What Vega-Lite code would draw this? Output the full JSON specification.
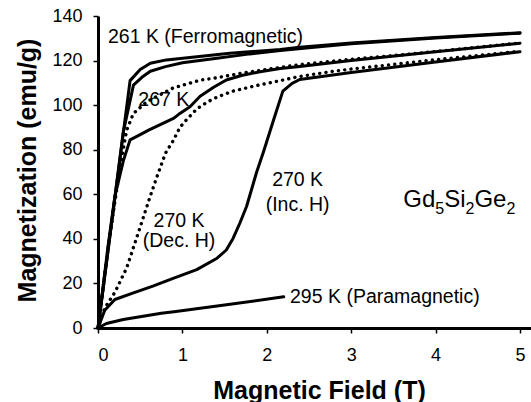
{
  "$schema": "https://vega.github.io/schema/vega-lite/v6.json",
  "width": 433,
  "height": 312,
  "autosize": {"type": "none"},
  "padding": {"left": 98, "top": 16, "right": 0, "bottom": 74},
  "background": "white",
  "config": {
    "view": {"stroke": null},
    "font": "Liberation Sans",
    "axis": {
      "domainColor": "black",
      "domainWidth": 3,
      "tickColor": "black",
      "tickWidth": 1.5,
      "tickSize": 5,
      "labelColor": "black",
      "labelFont": "Liberation Sans",
      "labelFontSize": 18,
      "titleColor": "black",
      "titleFont": "Liberation Sans",
      "titleFontSize": 25,
      "titleFontWeight": "bold",
      "grid": false
    }
  },
  "datasets": {
    "curves": [
      {"series": "261 K A", "B": 0, "M": 0},
      {"series": "261 K A", "B": 0.38, "M": 111},
      {"series": "261 K A", "B": 0.5, "M": 116},
      {"series": "261 K A", "B": 0.62, "M": 118.8},
      {"series": "261 K A", "B": 0.81, "M": 120.3},
      {"series": "261 K A", "B": 1.2, "M": 121.8},
      {"series": "261 K A", "B": 1.56, "M": 123.3},
      {"series": "261 K A", "B": 2.16, "M": 125},
      {"series": "261 K A", "B": 2.39, "M": 126},
      {"series": "261 K A", "B": 3, "M": 127.9},
      {"series": "261 K A", "B": 4, "M": 130.3},
      {"series": "261 K A", "B": 5, "M": 132.5},
      {"series": "261 K B", "B": 0, "M": 0},
      {"series": "261 K B", "B": 0.3, "M": 88},
      {"series": "261 K B", "B": 0.42, "M": 109},
      {"series": "261 K B", "B": 0.52, "M": 112.5},
      {"series": "261 K B", "B": 0.62, "M": 115.2},
      {"series": "261 K B", "B": 0.8, "M": 117.3},
      {"series": "261 K B", "B": 1.0, "M": 119},
      {"series": "261 K B", "B": 1.41, "M": 121},
      {"series": "261 K B", "B": 1.8, "M": 123},
      {"series": "261 K B", "B": 2.16, "M": 124.5},
      {"series": "261 K B", "B": 2.5, "M": 125.8},
      {"series": "261 K B", "B": 3, "M": 127.6},
      {"series": "261 K B", "B": 4, "M": 130.1},
      {"series": "261 K B", "B": 5, "M": 132.3},
      {"series": "267 K inc", "B": 0, "M": 0},
      {"series": "267 K inc", "B": 0.12, "M": 37},
      {"series": "267 K inc", "B": 0.2, "M": 59},
      {"series": "267 K inc", "B": 0.3, "M": 75},
      {"series": "267 K inc", "B": 0.38, "M": 84.4},
      {"series": "267 K inc", "B": 0.5, "M": 86.8},
      {"series": "267 K inc", "B": 0.6, "M": 88.8},
      {"series": "267 K inc", "B": 0.75, "M": 91.5},
      {"series": "267 K inc", "B": 0.9, "M": 94.2},
      {"series": "267 K inc", "B": 0.97, "M": 96.3},
      {"series": "267 K inc", "B": 1.09, "M": 99.3},
      {"series": "267 K inc", "B": 1.21, "M": 104},
      {"series": "267 K inc", "B": 1.37, "M": 108},
      {"series": "267 K inc", "B": 1.52, "M": 111.3},
      {"series": "267 K inc", "B": 1.7, "M": 113.3},
      {"series": "267 K inc", "B": 1.92, "M": 115},
      {"series": "267 K inc", "B": 2.16, "M": 116.4},
      {"series": "267 K inc", "B": 2.39, "M": 117.3},
      {"series": "267 K inc", "B": 3, "M": 120},
      {"series": "267 K inc", "B": 4, "M": 124},
      {"series": "267 K inc", "B": 5, "M": 127.8},
      {"series": "267 K dec", "B": 0, "M": 0},
      {"series": "267 K dec", "B": 0.12, "M": 36},
      {"series": "267 K dec", "B": 0.26, "M": 72},
      {"series": "267 K dec", "B": 0.34, "M": 88.8},
      {"series": "267 K dec", "B": 0.42, "M": 96.3},
      {"series": "267 K dec", "B": 0.58, "M": 101.6},
      {"series": "267 K dec", "B": 0.89, "M": 107.7},
      {"series": "267 K dec", "B": 1.21, "M": 111.2},
      {"series": "267 K dec", "B": 1.41, "M": 112.3},
      {"series": "267 K dec", "B": 1.68, "M": 114.2},
      {"series": "267 K dec", "B": 1.92, "M": 115.6},
      {"series": "267 K dec", "B": 2.39, "M": 118.2},
      {"series": "267 K dec", "B": 3, "M": 120.6},
      {"series": "267 K dec", "B": 3.6, "M": 122.6},
      {"series": "267 K dec", "B": 4, "M": 124.1},
      {"series": "267 K dec", "B": 5, "M": 127.9},
      {"series": "270 K inc", "B": 0, "M": 0},
      {"series": "270 K inc", "B": 0.08, "M": 8},
      {"series": "270 K inc", "B": 0.2, "M": 12.8},
      {"series": "270 K inc", "B": 0.42, "M": 15.8},
      {"series": "270 K inc", "B": 0.65, "M": 18.8},
      {"series": "270 K inc", "B": 0.89, "M": 22.3},
      {"series": "270 K inc", "B": 1.17, "M": 26.2},
      {"series": "270 K inc", "B": 1.41, "M": 31.3},
      {"series": "270 K inc", "B": 1.52, "M": 35},
      {"series": "270 K inc", "B": 1.6, "M": 40.2},
      {"series": "270 K inc", "B": 1.68, "M": 47},
      {"series": "270 K inc", "B": 1.76, "M": 54.5},
      {"series": "270 K inc", "B": 1.88, "M": 70},
      {"series": "270 K inc", "B": 1.96, "M": 79},
      {"series": "270 K inc", "B": 2.08, "M": 93.3},
      {"series": "270 K inc", "B": 2.19, "M": 106.3},
      {"series": "270 K inc", "B": 2.3, "M": 109.8},
      {"series": "270 K inc", "B": 2.39, "M": 111.5},
      {"series": "270 K inc", "B": 3, "M": 114.6},
      {"series": "270 K inc", "B": 4, "M": 119.4},
      {"series": "270 K inc", "B": 5, "M": 124},
      {"series": "270 K dec", "B": 0, "M": 0},
      {"series": "270 K dec", "B": 0.08, "M": 9},
      {"series": "270 K dec", "B": 0.2, "M": 16},
      {"series": "270 K dec", "B": 0.34, "M": 27},
      {"series": "270 K dec", "B": 0.48, "M": 43},
      {"series": "270 K dec", "B": 0.6, "M": 57},
      {"series": "270 K dec", "B": 0.69, "M": 67},
      {"series": "270 K dec", "B": 0.8, "M": 78.5},
      {"series": "270 K dec", "B": 0.89, "M": 84},
      {"series": "270 K dec", "B": 0.97, "M": 90},
      {"series": "270 K dec", "B": 1.05, "M": 93.5},
      {"series": "270 K dec", "B": 1.17, "M": 98.3},
      {"series": "270 K dec", "B": 1.3, "M": 101.5},
      {"series": "270 K dec", "B": 1.41, "M": 103.6},
      {"series": "270 K dec", "B": 1.6, "M": 106.3},
      {"series": "270 K dec", "B": 1.88, "M": 108.8},
      {"series": "270 K dec", "B": 2.16, "M": 111},
      {"series": "270 K dec", "B": 2.35, "M": 112.6},
      {"series": "270 K dec", "B": 2.75, "M": 115},
      {"series": "270 K dec", "B": 3, "M": 116.2},
      {"series": "270 K dec", "B": 4, "M": 120.4},
      {"series": "270 K dec", "B": 5, "M": 124.2},
      {"series": "295 K", "B": 0, "M": 0},
      {"series": "295 K", "B": 0.1, "M": 2},
      {"series": "295 K", "B": 0.3, "M": 3.8},
      {"series": "295 K", "B": 0.75, "M": 6.6},
      {"series": "295 K", "B": 0.9, "M": 7.3},
      {"series": "295 K", "B": 1.5, "M": 10.3},
      {"series": "295 K", "B": 2.2, "M": 14}
    ],
    "leftLabels": [
      {"label": "261 K (Ferromagnetic)", "B": 0.118, "M": 127.9},
      {"label": "267 K", "B": 0.478, "M": 99.6},
      {"label": "295 K (Paramagnetic)", "B": 2.275, "M": 11.1}
    ],
    "centerLabels": [
      {"label": "270 K", "B": 0.96, "M": 45.5},
      {"label": "(Dec. H)", "B": 0.96, "M": 36.3},
      {"label": "270 K", "B": 2.365, "M": 63.5},
      {"label": "(Inc. H)", "B": 2.365, "M": 52.5}
    ],
    "formula": [
      {"part": "Gd", "B": 3.617, "M": 54.4},
      {"part": "Si", "B": 4.102, "M": 54.4},
      {"part": "Ge", "B": 4.46, "M": 54.4}
    ],
    "subscripts": [
      {"part": "5", "B": 3.996, "M": 51.2},
      {"part": "2", "B": 4.354, "M": 51.2},
      {"part": "2", "B": 4.839, "M": 51.2}
    ]
  },
  "encoding": {
    "x": {
      "field": "B",
      "type": "quantitative",
      "scale": {"domain": [0, 5.13], "nice": false, "zero": false},
      "axis": {
        "values": [0, 1, 2, 3, 4, 5],
        "title": "Magnetic Field (T)",
        "labelPadding": 13,
        "titleX": 221,
        "titleY": 70,
        "titleAlign": "center",
        "titleBaseline": "alphabetic"
      }
    },
    "y": {
      "field": "M",
      "type": "quantitative",
      "scale": {"domain": [0, 140], "nice": false},
      "axis": {
        "values": [0, 20, 40, 60, 80, 100, 120, 140],
        "title": "Magnetization (emu/g)",
        "labelPadding": 11,
        "titleX": -63,
        "titleY": 154,
        "titleAngle": 270,
        "titleAlign": "center",
        "titleBaseline": "alphabetic"
      }
    }
  },
  "layer": [
    {
      "data": {"values": [{}]},
      "mark": {"type": "rule", "color": "black", "strokeWidth": 3},
      "encoding": {"y": {"datum": 140}, "x": null}
    },
    {
      "data": {"name": "curves"},
      "transform": [{"filter": {"field": "series", "oneOf": ["261 K A", "261 K B", "267 K inc", "270 K inc", "295 K"]}}],
      "mark": {"type": "line", "color": "black", "strokeWidth": 3, "strokeJoin": "round", "strokeCap": "round"},
      "encoding": {"detail": {"field": "series"}}
    },
    {
      "data": {"name": "curves"},
      "transform": [{"filter": {"field": "series", "oneOf": ["267 K dec", "270 K dec"]}}],
      "mark": {"type": "line", "color": "black", "strokeWidth": 3.4, "strokeCap": "round", "strokeDash": [0.1, 6.2]},
      "encoding": {"detail": {"field": "series"}}
    },
    {
      "data": {"name": "leftLabels"},
      "mark": {"type": "text", "align": "left", "baseline": "alphabetic", "fontSize": 19.5, "color": "black"},
      "encoding": {"text": {"field": "label"}}
    },
    {
      "data": {"name": "centerLabels"},
      "mark": {"type": "text", "align": "center", "baseline": "alphabetic", "fontSize": 19.5, "color": "black"},
      "encoding": {"text": {"field": "label"}}
    },
    {
      "data": {"name": "formula"},
      "mark": {"type": "text", "align": "left", "baseline": "alphabetic", "fontSize": 24, "color": "black"},
      "encoding": {"text": {"field": "part"}}
    },
    {
      "data": {"name": "subscripts"},
      "mark": {"type": "text", "align": "left", "baseline": "alphabetic", "fontSize": 16, "color": "black"},
      "encoding": {"text": {"field": "part"}}
    }
  ]
}
